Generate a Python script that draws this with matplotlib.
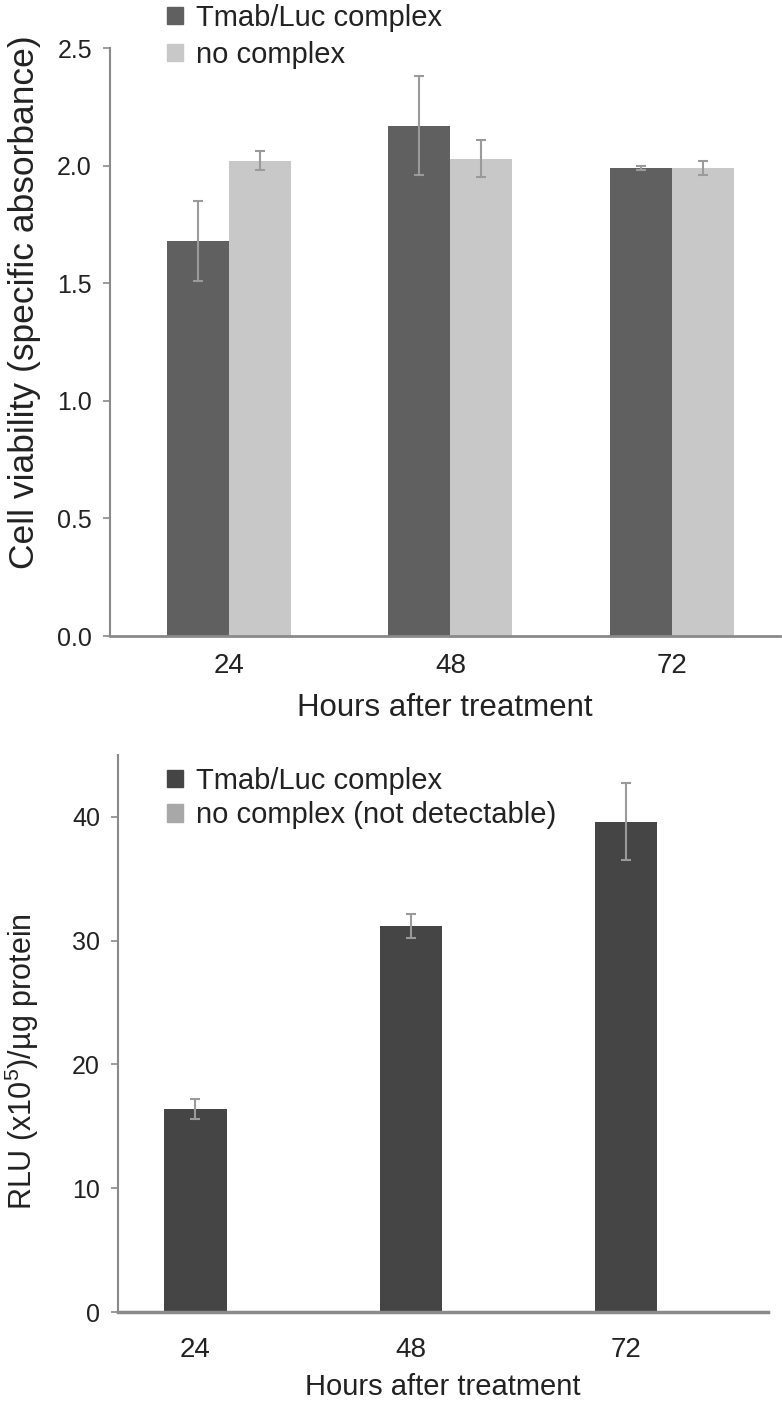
import matplotlib
matplotlib.use("Agg")
import matplotlib.pyplot as plt
from matplotlib.patches import Patch
import numpy as np

# ---- data ----
hours = ["24", "48", "72"]
series_top = ["Tmab/Luc complex", "no complex"]
viab_complex = [1.68, 2.17, 1.99]
viab_complex_err = [0.17, 0.21, 0.01]
viab_none = [2.02, 2.03, 1.99]
viab_none_err = [0.04, 0.08, 0.03]

series_bottom = ["Tmab/Luc complex", "no complex (not detectable)"]
rlu_complex = [16.4, 31.2, 39.6]
rlu_complex_err = [0.8, 0.95, 3.1]

top_yticks = [0.0, 0.5, 1.0, 1.5, 2.0, 2.5]
bottom_yticks = [0, 10, 20, 30, 40]

# ---- fonts ----
reg = "Liberation Sans"
plt.rcParams["font.family"] = [reg, "DejaVu Sans"]
plt.rcParams["mathtext.fontset"] = "custom"
plt.rcParams["mathtext.rm"] = reg

dark_top = "#606060"
light_top = "#c8c8c8"
dark_bot = "#454545"
light_bot = "#a8a8a8"
err_col = "#9a9a9a"
spine_col = "#8a8a8a"
txt_col = "#222222"

W, H = 782, 1401
fig = plt.figure(figsize=(W / 100, H / 100), dpi=100)

def ax_rect(l, t, r, b):
    return [l / W, 1 - b / H, (r - l) / W, (b - t) / H]

# ---- top panel ----
ax1 = fig.add_axes(ax_rect(110, 48, 780, 636))
x = np.arange(len(hours))
bw = 0.28
ekw = dict(ecolor=err_col, elinewidth=1.5, capsize=3.5, capthick=1.5)
ax1.bar(x - bw / 2, viab_complex, bw, color=dark_top, yerr=viab_complex_err, error_kw=ekw, zorder=2)
ax1.bar(x + bw / 2, viab_none, bw, color=light_top, yerr=viab_none_err, error_kw=ekw, zorder=2)
ax1.set_xlim(-0.537, 2.488)
ax1.set_ylim(0, 2.5)
ax1.set_yticks(top_yticks)
ax1.set_yticklabels([f"{v:.1f}" for v in top_yticks], fontsize=18, color=txt_col)
ax1.set_xticks(x)
ax1.set_xticklabels(hours, fontsize=20, color=txt_col)
ax1.set_xlabel("Hours after treatment", fontsize=22.5, color=txt_col, labelpad=10)
fig.text(25 / W, 1 - 302 / H, "Cell viability (specific absorbance)", rotation=90,
         fontsize=25.5, color=txt_col, ha="center", va="center")

handles1 = [Patch(color=dark_top), Patch(color=light_top)]
ax1.legend(handles1, series_top, loc="upper left", bbox_to_anchor=((167 - 110) / 670, 1 + 44 / 588),
           frameon=False, fontsize=21, handlelength=0.55, handleheight=0.55, handletextpad=0.45,
           labelspacing=0.3, borderaxespad=0, borderpad=0, labelcolor=txt_col)

# ---- bottom panel ----
ax2 = fig.add_axes(ax_rect(118, 755, 768, 1312))
bw2 = 0.29
ax2.bar(x, rlu_complex, bw2, color=dark_bot, yerr=rlu_complex_err, error_kw=ekw, zorder=2)
ax2.set_xlim(-0.36, 2.66)
ax2.set_ylim(0, 45)
ax2.set_yticks(bottom_yticks)
ax2.set_yticklabels([str(v) for v in bottom_yticks], fontsize=18, color=txt_col)
ax2.set_xticks(x)
ax2.set_xticklabels(hours, fontsize=20, color=txt_col)
ax2.set_xlabel("Hours after treatment", fontsize=21, color=txt_col, labelpad=7)
fig.text(22 / W, 1 - 1062 / H, r"RLU (x10$^{5}$)/µg protein", rotation=90,
         fontsize=22, color=txt_col, ha="center", va="center")

handles2 = [Patch(color=dark_bot), Patch(color=light_bot)]
ax2.legend(handles2, series_bottom, loc="upper left", bbox_to_anchor=((167 - 118) / 650, 1 - 12 / 557),
           frameon=False, fontsize=21, handlelength=0.55, handleheight=0.55, handletextpad=0.45,
           labelspacing=0.22, borderaxespad=0, borderpad=0, labelcolor=txt_col)

for ax, lw_b in ((ax1, 2.0), (ax2, 2.5)):
    ax.spines["top"].set_visible(False)
    ax.spines["right"].set_visible(False)
    ax.spines["left"].set_color(spine_col)
    ax.spines["left"].set_linewidth(1.5)
    ax.spines["bottom"].set_color(spine_col)
    ax.spines["bottom"].set_linewidth(lw_b)
    ax.tick_params(axis="y", direction="out", length=5, width=1.2, color=spine_col, pad=8)
ax1.tick_params(axis="x", length=0, pad=12)
ax2.tick_params(axis="x", length=0, pad=18)

fig.savefig("out.png", dpi=100)
